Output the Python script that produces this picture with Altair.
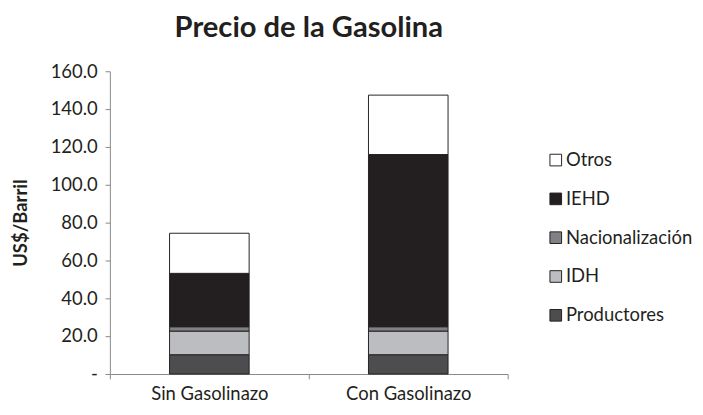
import altair as alt
import pandas as pd

categorias = ["Sin Gasolinazo", "Con Gasolinazo"]
componentes = ["Productores", "IDH", "Nacionalización", "IEHD", "Otros"]
productores = [10.2, 10.2]
idh = [12.5, 12.5]
nacionalizacion = [2.3, 2.3]
iehd = [28.2, 91.0]
otros = [21.2, 31.4]
colores = ["#4d4d4f", "#bcbdc0", "#808184", "#231f20", "#ffffff"]

series = [productores, idh, nacionalizacion, iehd, otros]
rows = []
for i, comp in enumerate(componentes):
    for j, cat in enumerate(categorias):
        rows.append({"Escenario": cat, "Componente": comp, "Valor": series[i][j], "orden": i})
df = pd.DataFrame(rows)

legend_order = list(reversed(componentes))
legend_colors = list(reversed(colores))

FONT = "Lato"
FS = 19

chart = alt.Chart(df).mark_bar(stroke="#231f20", strokeWidth=1,
                               width=alt.RelativeBandSize(0.4)).encode(
    x=alt.X("Escenario:N", sort=categorias,
            scale=alt.Scale(paddingInner=0, paddingOuter=0),
            axis=alt.Axis(title=None, labelAngle=0, labelFontSize=FS, labelColor="#231f20",
                          labelFont=FONT, tickBand="extent", tickSize=5, domainColor="#868686",
                          tickColor="#868686", labelPadding=6)),
    y=alt.Y("Valor:Q", stack="zero",
            scale=alt.Scale(domain=[0, 160]),
            axis=alt.Axis(title="US$/Barril", titleFontSize=19, titleFont=FONT, titleFontWeight="bold",
                          titleColor="#231f20", values=[0, 20, 40, 60, 80, 100, 120, 140, 160],
                          labelExpr="datum.value == 0 ? '-' : format(datum.value, '.1f')",
                          labelFontSize=FS, labelFont=FONT, labelColor="#231f20", grid=False,
                          tickSize=5, domainColor="#868686", tickColor="#868686", labelPadding=8,
                          titlePadding=20)),
    color=alt.Color("Componente:N",
                    scale=alt.Scale(domain=legend_order, range=legend_colors),
                    legend=alt.Legend(title=None, orient="none", legendX=450, legendY=82,
                                      labelFontSize=FS, labelFont=FONT, labelColor="#231f20",
                                      symbolType="square", symbolSize=144, symbolStrokeColor="#231f20",
                                      symbolStrokeWidth=1, rowPadding=20, labelOffset=1)),
    order=alt.Order("orden:Q", sort="ascending"),
).properties(
    width=410, height=312,
    padding={"top": 0, "left": 4, "right": 2, "bottom": 5},
    title=alt.TitleParams("Precio de la Gasolina", fontSize=30, font=FONT, fontWeight="bold",
                          color="#231f20", anchor="middle", offset=10, dy=-10),
).configure(background="white").configure_view(strokeWidth=0)

chart.save("out.html", embed_options={"renderer": "svg", "actions": False})
